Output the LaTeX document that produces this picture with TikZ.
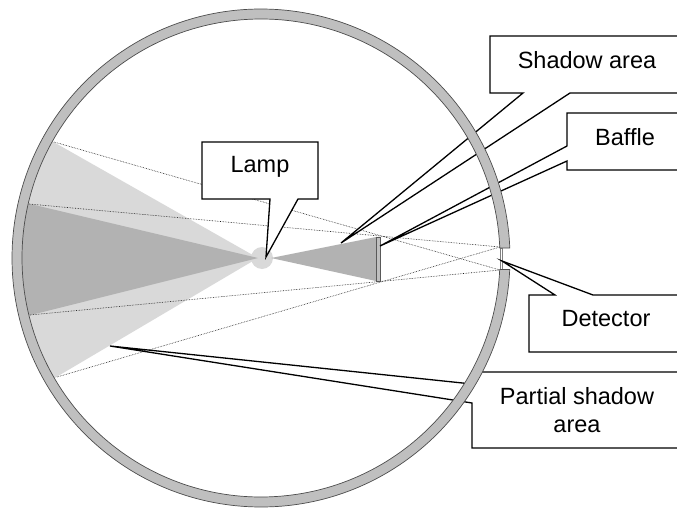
\documentclass[tikz,border=0pt]{standalone}
\usepackage{fontspec}
\usetikzlibrary{calc}
\setmainfont{Liberation Sans}
\tikzset{
  callout/.style = {draw, fill=white, line width=1.3pt, line join=miter},
  ring/.style = {draw=black!70, fill=black!25, line width=0.7pt},
  ray/.style = {black!90, line width=0.6pt, densely dotted},
  label/.style = {font=\fontsize{23.5}{28}\selectfont, align=center}
}
\begin{document}
\begin{tikzpicture}[x=1pt, y=-1pt]
\useasboundingbox (0,0) rectangle (677,508);
\coordinate (lamp) at (261,258);
\coordinate (apt) at (500,247);
\coordinate (apb) at (500,270);
\coordinate (raya) at (54,142);
\coordinate (rayb) at (29,204);
\coordinate (rayc) at (30,315);
\coordinate (rayd) at (57,377);

% shadow areas
\fill[black!15] (262,258) circle (11);
\fill[black!15] (258,258) -- (50,140) -- (26,200) -- (20,258) -- (28,320) -- (53,379) -- cycle;
\fill[black!30] (258,258) -- (26,203) -- (20,258) -- (27,316) -- cycle;
\fill[black!30] (271,258) -- (376,237) -- (376,281) -- cycle;

% lines to the edges of the aperture
\draw[ray] (raya) -- (apb);
\draw[ray] (rayb) -- (apt);
\draw[ray] (rayc) -- (apb);
\draw[ray] (rayd) -- (apt);

\node[draw=black!65, fill=black!25, line width=0.6pt, minimum width=4.5, minimum height=44, inner sep=0] (baffle) at (378.5,259) {};
\node[draw=black!50, fill=white, line width=0.5pt, minimum width=2.5, minimum height=22, inner sep=0] (detector) at (501,259) {};

% callouts
\draw[callout] (202,142) -- (318,142) -- (318,199) -- (298,199) -- (266,257) -- (270,199) -- (202,199) -- cycle;
\draw[callout] (490,36) -- (690,36) -- (690,93) -- (570,93) -- (341,243) -- (523,93) -- (490,93) -- cycle;
\draw[callout] (567,113) -- (690,113) -- (690,170) -- (567,170) -- (567,161) -- (380,246) -- (567,146) -- cycle;
\draw[callout] (529,295) -- (555,295) -- (502,261) -- (593,295) -- (690,295) -- (690,352) -- (529,352) -- cycle;
\draw[callout] (472,372) -- (690,372) -- (690,448) -- (472,448) -- (472,403) -- (110,346) -- (472,384) -- cycle;

% wall of the sphere
\draw[ring] ($(lamp)+(2.65:249)$) arc[start angle=2.65, end angle=357.7, radius=249]
  -- ($(lamp)+(357.6:239)$) arc[start angle=357.6, end angle=2.77, radius=239] -- cycle;

\node[label] (lamplabel) at (260,167) {Lamp};
\node[label] (shadowlabel) at (587,60) {Shadow area};
\node[label] (bafflelabel) at (625,137) {Baffle};
\node[label] (detectorlabel) at (606,319) {Detector};
\node[label] (partiallabel) at (577,410) {Partial shadow\\area};
\end{tikzpicture}
\end{document}
